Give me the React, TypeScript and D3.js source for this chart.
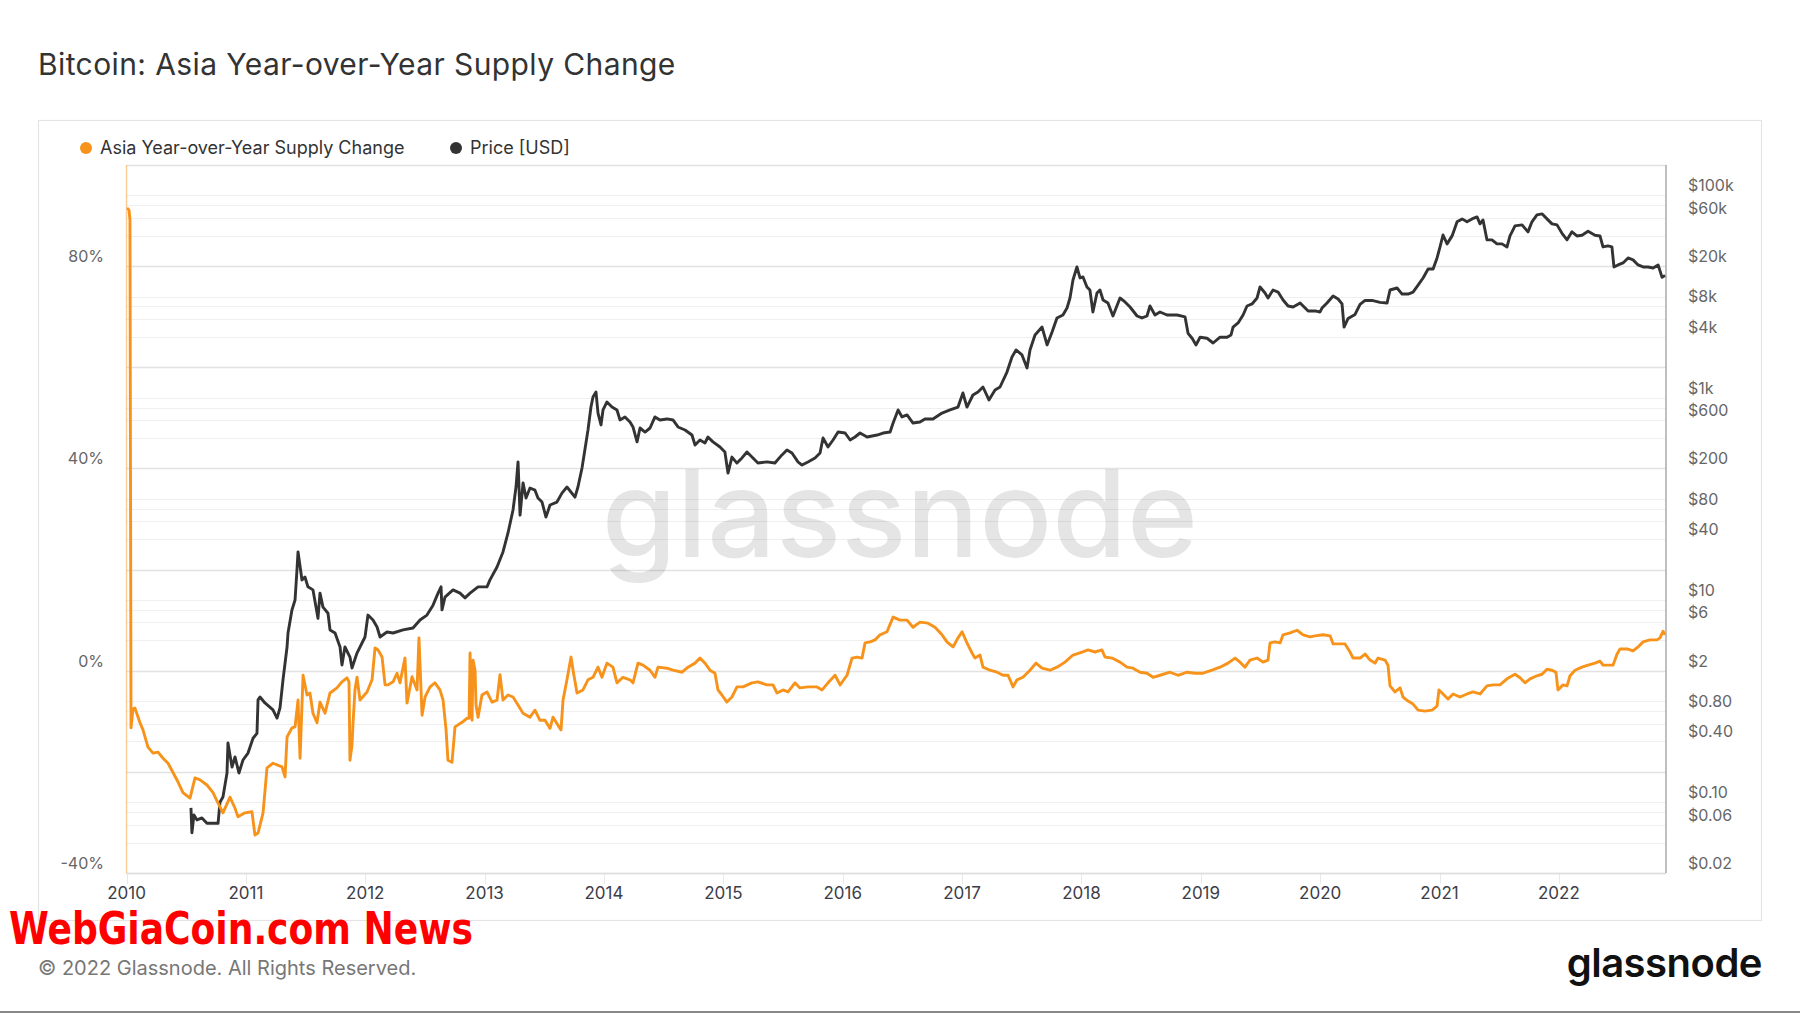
import React from 'react';
import * as d3 from 'd3';

const W = 1800;
const H = 1013;

const titleText = 'Bitcoin: Asia Year-over-Year Supply Change';
const legendLabels = ['Asia Year-over-Year Supply Change', 'Price [USD]'];
const seriesColors = ['#f7931a', '#333333'];
const yearTicks = [2010, 2011, 2012, 2013, 2014, 2015, 2016, 2017, 2018, 2019, 2020, 2021, 2022];
const pctTicks = [80, 40, 0, -40];
const priceTicks = [100000, 60000, 20000, 8000, 4000, 1000, 600, 200, 80, 40, 10, 6, 2, 0.8, 0.4, 0.1, 0.06, 0.02];

// [decimal year, YoY supply change %]
const supplyChange: [number, number][] = [
  [2010.004, 91.5], [2010.021, 91.1], [2010.029, 89.1], [2010.038, -11.3], [2010.054, -7.6], [2010.071, -7.4], [2010.113, -10.3], [2010.138, -11.7], [2010.18, -15.1], [2010.222, -16.3], [2010.264, -16.1], [2010.306, -17.3], [2010.348, -18.3], [2010.423, -21.6], [2010.473, -24.1], [2010.532, -25.2], [2010.574, -21.2], [2010.616, -21.6], [2010.674, -22.6], [2010.725, -24.1], [2010.767, -26.2], [2010.808, -28.1], [2010.867, -25.0], [2010.909, -27.2], [2010.934, -28.9], [2010.993, -28.1],
  [2011.051, -27.9], [2011.076, -32.5], [2011.102, -32.1], [2011.144, -28.1], [2011.177, -19.2], [2011.227, -18.3], [2011.303, -19.0], [2011.328, -21.0], [2011.345, -13.1], [2011.386, -11.3], [2011.412, -11.1], [2011.437, -5.8], [2011.454, -17.3], [2011.479, -0.9], [2011.512, -4.8], [2011.537, -4.4], [2011.562, -8.4], [2011.596, -10.3], [2011.621, -6.2], [2011.663, -8.4], [2011.705, -4.4], [2011.763, -3.4], [2011.805, -2.2], [2011.847, -1.4], [2011.864, -2.2], [2011.872, -17.7], [2011.889, -14.7], [2011.898, -10.3], [2011.914, -3.8], [2011.931, -1.3], [2011.956, -5.8],
  [2012.015, -4.2], [2012.057, -1.8], [2012.082, 4.5], [2012.107, 4.1], [2012.141, 2.7], [2012.166, -2.8], [2012.191, -2.8], [2012.233, -2.2], [2012.266, -0.5], [2012.291, -2.4], [2012.333, 2.5], [2012.35, -6.4], [2012.392, -1.2], [2012.434, -3.8], [2012.45, 6.5], [2012.476, -8.8], [2012.501, -5.2], [2012.543, -3.2], [2012.584, -2.4], [2012.626, -3.8], [2012.652, -5.8], [2012.677, -11.7], [2012.693, -17.7], [2012.727, -18.1], [2012.752, -11.1], [2012.811, -10.2], [2012.853, -9.4], [2012.87, -9.4], [2012.878, 3.5], [2012.886, -5.8], [2012.895, -9.8], [2012.903, 2.1], [2012.92, 0.1], [2012.928, -6.8], [2012.945, -9.2], [2012.978, -4.8],
  [2013.02, -4.2], [2013.062, -6.2], [2013.104, -5.8], [2013.129, -0.8], [2013.154, -5.8], [2013.196, -4.8], [2013.238, -5.2], [2013.28, -6.8], [2013.322, -8.4], [2013.38, -9.2], [2013.422, -7.8], [2013.464, -9.8], [2013.506, -9.8], [2013.548, -11.4], [2013.573, -9.2], [2013.615, -10.8], [2013.64, -11.7], [2013.657, -5.8], [2013.69, -1.8], [2013.724, 2.7], [2013.741, 0.1], [2013.774, -4.4], [2013.824, -3.8], [2013.866, -1.8], [2013.908, -1.3], [2013.95, 0.7], [2013.983, -1.3],
  [2014.025, 1.5], [2014.075, 0.7], [2014.109, -2.4], [2014.159, -1.3], [2014.218, -1.8], [2014.243, -2.4], [2014.285, 1.5], [2014.327, 1.1], [2014.386, 0.1], [2014.427, -1.3], [2014.453, 0.7], [2014.528, 0.5], [2014.578, 0.1], [2014.654, -0.3], [2014.704, 0.7], [2014.763, 1.5], [2014.804, 2.5], [2014.846, 1.5], [2014.888, 0.1], [2014.93, -0.5], [2014.955, -3.8], [2014.988, -4.8],
  [2015.03, -6.2], [2015.072, -5.2], [2015.114, -3.2], [2015.164, -3.2], [2015.24, -2.4], [2015.29, -2.2], [2015.365, -2.8], [2015.416, -2.8], [2015.449, -4.4], [2015.5, -3.8], [2015.542, -4.2], [2015.6, -2.4], [2015.642, -3.4], [2015.709, -3.2], [2015.785, -3.2], [2015.827, -3.8], [2015.877, -2.4], [2015.936, -0.9], [2015.978, -2.8],
  [2016.036, -0.9], [2016.078, 2.5], [2016.12, 2.7], [2016.162, 2.5], [2016.187, 5.5], [2016.229, 5.7], [2016.271, 6.1], [2016.313, 7.1], [2016.371, 7.7], [2016.422, 10.6], [2016.48, 10.0], [2016.539, 10.0], [2016.589, 8.6], [2016.647, 9.6], [2016.714, 9.4], [2016.773, 8.6], [2016.832, 7.1], [2016.873, 5.7], [2016.924, 4.7], [2016.966, 6.5],
  [2017.0, 7.7], [2017.041, 5.5], [2017.083, 3.5], [2017.108, 2.5], [2017.15, 3.1], [2017.175, 0.7], [2017.234, 0.1], [2017.293, -0.3], [2017.343, -0.9], [2017.385, -0.9], [2017.427, -3.2], [2017.46, -1.8], [2017.51, -1.3], [2017.569, 0.1], [2017.619, 1.5], [2017.67, 0.5], [2017.737, 0.1], [2017.795, 0.7], [2017.862, 1.7], [2017.929, 3.1],
  [2018.005, 3.7], [2018.055, 4.1], [2018.114, 3.7], [2018.172, 4.1], [2018.197, 2.7], [2018.256, 2.5], [2018.323, 1.7], [2018.382, 0.7], [2018.432, 0.5], [2018.491, -0.3], [2018.549, -0.5], [2018.6, -1.3], [2018.658, -0.9], [2018.742, -0.3], [2018.809, -0.9], [2018.885, -0.3], [2018.952, -0.5],
  [2019.019, -0.5], [2019.094, 0.1], [2019.161, 0.7], [2019.228, 1.5], [2019.287, 2.5], [2019.328, 1.7], [2019.37, 0.7], [2019.412, 2.1], [2019.471, 2.5], [2019.521, 1.7], [2019.563, 2.1], [2019.58, 5.5], [2019.622, 5.7], [2019.664, 5.5], [2019.689, 7.1], [2019.748, 7.5], [2019.806, 8.0], [2019.857, 7.1], [2019.915, 6.7], [2019.957, 6.9],
  [2020.024, 7.1], [2020.083, 6.9], [2020.108, 5.3], [2020.166, 5.3], [2020.208, 5.3], [2020.25, 3.7], [2020.275, 2.5], [2020.334, 2.5], [2020.376, 3.3], [2020.418, 2.1], [2020.459, 1.5], [2020.485, 2.5], [2020.543, 2.1], [2020.568, 1.1], [2020.585, -3.0], [2020.627, -4.2], [2020.669, -3.4], [2020.694, -5.2], [2020.736, -6.0], [2020.778, -6.6], [2020.82, -7.8], [2020.878, -8.0], [2020.937, -7.8], [2020.979, -7.0], [2020.995, -3.8],
  [2021.029, -4.6], [2021.071, -5.6], [2021.113, -4.6], [2021.171, -5.2], [2021.23, -4.6], [2021.28, -4.2], [2021.339, -4.6], [2021.397, -3.0], [2021.448, -2.8], [2021.506, -2.8], [2021.565, -1.6], [2021.632, -0.7], [2021.674, -1.4], [2021.716, -2.4], [2021.758, -1.6], [2021.816, -1.0], [2021.858, -0.7], [2021.9, 0.3], [2021.942, 0.1], [2021.975, -0.3], [2021.992, -3.8],
  [2022.034, -2.8], [2022.068, -3.0], [2022.093, -1.0], [2022.135, 0.1], [2022.193, 0.7], [2022.244, 1.1], [2022.302, 1.5], [2022.344, 1.9], [2022.369, 1.1], [2022.411, 1.1], [2022.453, 1.1], [2022.487, 3.3], [2022.512, 4.3], [2022.571, 4.3], [2022.621, 3.9], [2022.663, 4.7], [2022.705, 5.7], [2022.763, 6.1], [2022.822, 6.1], [2022.847, 6.5], [2022.872, 7.8], [2022.889, 7.1],
];

// [decimal year, BTC price USD]
const priceUsd: [number, number][] = [
  [2010.54, 0.088], [2010.548, 0.05], [2010.565, 0.075], [2010.591, 0.067], [2010.632, 0.07], [2010.674, 0.062], [2010.725, 0.062], [2010.767, 0.062], [2010.783, 0.1], [2010.808, 0.113], [2010.842, 0.195], [2010.85, 0.386], [2010.884, 0.223], [2010.909, 0.281], [2010.942, 0.195], [2010.976, 0.262],
  [2011.018, 0.307], [2011.06, 0.43], [2011.093, 0.48], [2011.102, 1.03], [2011.118, 1.1], [2011.16, 0.96], [2011.227, 0.82], [2011.261, 0.68], [2011.286, 0.86], [2011.311, 1.62], [2011.345, 3.43], [2011.353, 4.72], [2011.386, 7.96], [2011.412, 10.0], [2011.428, 19.8], [2011.437, 29.9], [2011.47, 15.8], [2011.495, 16.9], [2011.52, 13.5], [2011.562, 12.6], [2011.604, 6.6], [2011.621, 11.7], [2011.646, 8.5], [2011.688, 7.4], [2011.705, 5.06], [2011.747, 4.72], [2011.789, 3.43], [2011.805, 2.28], [2011.83, 3.43], [2011.872, 2.73], [2011.889, 2.13], [2011.931, 2.99], [2011.973, 3.76], [2011.998, 4.31],
  [2012.023, 7.1], [2012.065, 6.35], [2012.099, 5.41], [2012.124, 4.31], [2012.182, 4.83], [2012.233, 4.72], [2012.317, 5.06], [2012.4, 5.29], [2012.459, 6.35], [2012.517, 7.1], [2012.568, 8.9], [2012.61, 11.7], [2012.635, 13.5], [2012.643, 8.0], [2012.668, 10.7], [2012.735, 12.6], [2012.794, 11.7], [2012.836, 10.5], [2012.878, 11.7], [2012.945, 13.5],
  [2013.02, 13.5], [2013.045, 15.8], [2013.104, 21.2], [2013.154, 29.9], [2013.196, 46], [2013.238, 77.6], [2013.263, 131], [2013.28, 232], [2013.297, 69], [2013.322, 144], [2013.347, 102], [2013.38, 128], [2013.422, 122], [2013.447, 102], [2013.481, 93], [2013.514, 66], [2013.548, 87], [2013.606, 93], [2013.648, 114], [2013.69, 131], [2013.757, 104], [2013.782, 131], [2013.816, 202], [2013.849, 357], [2013.866, 480], [2013.891, 809], [2013.908, 1016], [2013.933, 1140], [2013.95, 706], [2013.975, 538], [2013.992, 757],
  [2014.025, 908], [2014.067, 809], [2014.109, 757], [2014.134, 603], [2014.176, 646], [2014.218, 575], [2014.243, 514], [2014.277, 366], [2014.302, 502], [2014.344, 458], [2014.386, 502], [2014.427, 646], [2014.469, 603], [2014.528, 617], [2014.578, 603], [2014.62, 514], [2014.679, 480], [2014.737, 428], [2014.763, 341], [2014.804, 382], [2014.846, 357], [2014.871, 409], [2014.913, 366], [2014.972, 326],
  [2015.013, 291], [2015.039, 180], [2015.072, 259], [2015.114, 226], [2015.156, 254], [2015.198, 291], [2015.248, 254], [2015.29, 226], [2015.365, 232], [2015.432, 226], [2015.491, 272], [2015.533, 304], [2015.575, 284], [2015.625, 232], [2015.659, 216], [2015.709, 232], [2015.768, 254], [2015.81, 284], [2015.835, 400], [2015.877, 326], [2015.919, 382], [2015.961, 458],
  [2016.02, 448], [2016.062, 382], [2016.103, 409], [2016.145, 448], [2016.204, 409], [2016.288, 428], [2016.338, 448], [2016.397, 458], [2016.422, 562], [2016.464, 757], [2016.497, 646], [2016.539, 676], [2016.589, 562], [2016.647, 575], [2016.689, 617], [2016.756, 617], [2016.832, 706], [2016.899, 757], [2016.966, 809],
  [2017.007, 1114], [2017.041, 809], [2017.091, 1064], [2017.133, 1140], [2017.175, 1277], [2017.225, 951], [2017.276, 1194], [2017.318, 1277], [2017.376, 1795], [2017.418, 2530], [2017.452, 2966], [2017.502, 2648], [2017.544, 1968], [2017.569, 2966], [2017.611, 4172], [2017.67, 5000], [2017.712, 3326], [2017.754, 4466], [2017.795, 6152], [2017.845, 6578], [2017.879, 7710], [2017.904, 9684], [2017.929, 14594], [2017.962, 19632], [2017.988, 15276],
  [2018.013, 15632], [2018.046, 12446], [2018.071, 11616], [2018.096, 7048], [2018.13, 10840], [2018.155, 11616], [2018.181, 9248], [2018.222, 8630], [2018.264, 6428], [2018.323, 9684], [2018.365, 8852], [2018.407, 7890], [2018.466, 6428], [2018.507, 6152], [2018.549, 6428], [2018.574, 8072], [2018.616, 6578], [2018.658, 7048], [2018.717, 6578], [2018.801, 6578], [2018.868, 6296], [2018.893, 4336], [2018.927, 3872], [2018.96, 3326], [2018.994, 3964],
  [2019.052, 3872], [2019.103, 3476], [2019.161, 3964], [2019.22, 3964], [2019.253, 4172], [2019.27, 5000], [2019.312, 5484], [2019.354, 6578], [2019.387, 8072], [2019.429, 8454], [2019.471, 9684], [2019.496, 12446], [2019.538, 10840], [2019.563, 9684], [2019.605, 11616], [2019.647, 11092], [2019.689, 9248], [2019.731, 8072], [2019.773, 7890], [2019.832, 8630], [2019.857, 8072], [2019.899, 7212], [2019.957, 7212], [2019.999, 7048],
  [2020.015, 7710], [2020.057, 8650], [2020.108, 10140], [2020.15, 9464], [2020.183, 8454], [2020.2, 5000], [2020.234, 6082], [2020.292, 6668], [2020.334, 8376], [2020.376, 9162], [2020.434, 9162], [2020.501, 8770], [2020.56, 8630], [2020.585, 11616], [2020.644, 12162], [2020.686, 10592], [2020.736, 10592], [2020.778, 11092], [2020.82, 13004], [2020.862, 15276], [2020.904, 18752], [2020.946, 18752], [2020.979, 24100],
  [2021.004, 30980], [2021.029, 40640], [2021.063, 33200], [2021.105, 39820], [2021.147, 54840], [2021.189, 58660], [2021.23, 54840], [2021.272, 58660], [2021.314, 61380], [2021.339, 52360], [2021.364, 57280], [2021.397, 36400], [2021.439, 36400], [2021.481, 33200], [2021.523, 33200], [2021.565, 30980], [2021.59, 39820], [2021.632, 50000], [2021.691, 51180], [2021.741, 43660], [2021.774, 54840], [2021.816, 64280], [2021.858, 65780], [2021.9, 58660], [2021.942, 52360], [2021.984, 51180],
  [2022.026, 42260], [2022.068, 36400], [2022.109, 43660], [2022.151, 39740], [2022.193, 40460], [2022.244, 44260], [2022.302, 40460], [2022.344, 39740], [2022.369, 30980], [2022.411, 31700], [2022.444, 30980], [2022.461, 19632], [2022.495, 20560], [2022.537, 21520], [2022.579, 24100], [2022.621, 23060], [2022.663, 20560], [2022.705, 19632], [2022.747, 19632], [2022.789, 19190], [2022.831, 20560], [2022.864, 15490], [2022.889, 16210],
];

const FONT = "Inter, 'Noto Sans', 'DejaVu Sans', sans-serif";

function fmtPrice(v: number): string {
  if (v >= 1000) return '$' + v / 1000 + 'k';
  if (v < 1) return '$' + v.toFixed(2);
  return '$' + v;
}

export default function App() {
  const L = 126.5, R = 1666, T = 165, B = 873;
  const x = d3.scaleLinear().domain([2010, 2022.897]).range([L, R]);
  const yPct = d3.scaleLinear().domain([-40, 100]).range([B, T]);
  const yPrice = d3.scaleLog().domain([0.02, 200000]).range([B, T]);

  const gridVals: { v: number; major: boolean }[] = [];
  for (let k = -2; k <= 5; k++) {
    for (const m of [1, 2, 4, 6, 8]) {
      const v = m * Math.pow(10, k);
      if (v >= 0.0199 && v <= 200001) gridVals.push({ v, major: m === 2 });
    }
  }

  const supplyLine = d3.line<[number, number]>().x(d => x(d[0])).y(d => yPct(d[1]));
  const priceLine = d3.line<[number, number]>().x(d => x(d[0])).y(d => yPrice(d[1]));

  return (
    <svg width={W} height={H} style={{ position: 'absolute', left: 0, top: 0, background: '#fff' }} fontFamily={FONT}>
      <rect x={0} y={0} width={W} height={H} fill="#ffffff" />
      <text x={38} y={75} fontSize={30} fill="#333" fontWeight={400} letterSpacing={0.4}>{titleText}</text>
      <rect x={38.5} y={120.5} width={1723} height={800} fill="none" stroke="#e4e4e4" strokeWidth={1.2} />

      {/* legend */}
      <circle cx={86} cy={148} r={6} fill={seriesColors[0]} />
      <text x={100} y={154} fontSize={18} fill="#333">{legendLabels[0]}</text>
      <circle cx={456} cy={148} r={6} fill={seriesColors[1]} />
      <text x={470} y={154} fontSize={18} fill="#333">{legendLabels[1]}</text>

      <defs>
        <clipPath id="plotClip">
          <rect x={L} y={T - 2} width={R - L} height={B - T + 4} />
        </clipPath>
      </defs>

      {/* gridlines */}
      {gridVals.map((g, i) => {
        const yy = Math.round(yPrice(g.v)) + 0.5;
        return <line key={i} x1={L} x2={R} y1={yy} y2={yy} stroke={g.major ? '#e2e2e2' : '#efefef'} strokeWidth={g.major ? 1.5 : 1.2} />;
      })}

      {/* watermark */}
      <text x={900} y={557} fontSize={121} textAnchor="middle" fill="#000" fillOpacity={0.1} fontWeight={500}>glassnode</text>

      {/* x ticks */}
      {yearTicks.map(t => (
        <line key={'xt' + t} x1={Math.round(x(t)) + 0.5} x2={Math.round(x(t)) + 0.5} y1={B} y2={B + 11} stroke="#e8e8e8" strokeWidth={1} />
      ))}
      <line x1={L} x2={R} y1={B + 0.5} y2={B + 0.5} stroke="#dedede" strokeWidth={1.5} />

      {/* axis lines */}
      <line x1={L} x2={L} y1={T} y2={B} stroke={seriesColors[0]} strokeOpacity={0.45} strokeWidth={1.5} />
      <line x1={R} x2={R} y1={T} y2={B} stroke="#aaa" strokeWidth={1.5} />

      {/* series */}
      <g clipPath="url(#plotClip)">
        <path d={priceLine(priceUsd) || ''} fill="none" stroke={seriesColors[1]} strokeWidth={2.9} strokeLinejoin="round" />
        <path d={supplyLine(supplyChange) || ''} fill="none" stroke={seriesColors[0]} strokeWidth={2.9} strokeLinejoin="round" />
      </g>

      {/* left axis labels */}
      {pctTicks.map(v => (
        <text key={'p' + v} x={104} y={yPct(v) - 4} fontSize={16} fill="#666" textAnchor="end">{v + '%'}</text>
      ))}
      {/* right axis labels */}
      {priceTicks.map(v => (
        <text key={'r' + v} x={1688} y={yPrice(v) - 4} fontSize={16} fill="#666">{fmtPrice(v)}</text>
      ))}
      {/* x labels */}
      {yearTicks.map(t => (
        <text key={'xl' + t} x={x(t)} y={899} fontSize={17} fill="#3d3d48" textAnchor="middle">{String(t)}</text>
      ))}

      {/* footer */}
      <text x={9} y={944} fontSize={45} fontWeight={700} fill="#ff0000" fontFamily="'Liberation Sans Narrow', 'DejaVu Sans Condensed', sans-serif" textLength={464} lengthAdjust="spacingAndGlyphs">WebGiaCoin.com News</text>
      <text x={38} y={975} fontSize={20} fill="#777">© 2022 Glassnode. All Rights Reserved.</text>
      <text x={1762} y={977} fontSize={40} fontWeight={600} fill="#111" textAnchor="end" letterSpacing={-0.5}>glassnode</text>
      <rect x={0} y={1011} width={W} height={2} fill="#888" />
    </svg>
  );
}
